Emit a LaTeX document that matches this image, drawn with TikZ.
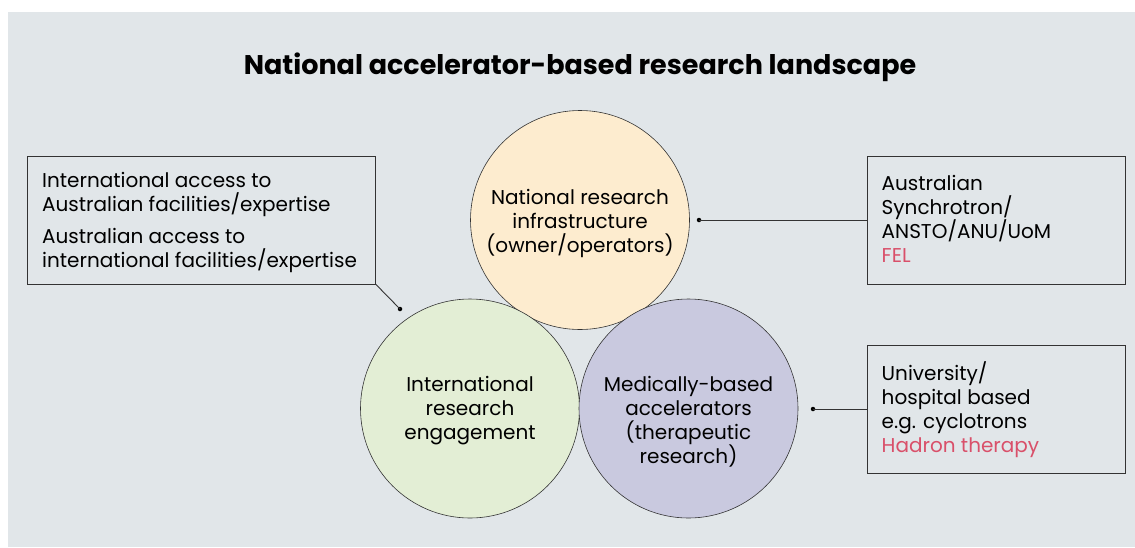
\documentclass[tikz,border=0pt]{standalone}
\usepackage{fontspec}
\setmainfont{Poppins}
\definecolor{panel}{HTML}{E1E6E9}
\definecolor{infra}{HTML}{FDECCF}
\definecolor{intl}{HTML}{E3EED5}
\definecolor{medic}{HTML}{C9C9DF}
\definecolor{accent}{HTML}{D9506A}
\definecolor{edge}{HTML}{333333}
\begin{document}
\begin{tikzpicture}[x=1pt,y=-1pt,
  bubble/.style={circle,draw=edge,line width=0.6pt,minimum size=219pt,inner sep=0pt},
  bubbletext/.style={align=center,font=\fontsize{20}{24}\selectfont,text=black},
  infobox/.style={draw=edge,line width=0.9pt},
  infotext/.style={anchor=north west,align=left,inner sep=0pt,font=\fontsize{20}{24}\selectfont},
  link/.style={draw=edge,line width=0.9pt},
  pin/.style={circle,fill=black,inner sep=0pt,minimum size=4.5pt}]
\useasboundingbox (0,0) rectangle (1135,547);
\fill[white] (0,0) rectangle (1135,547);
\fill[panel] (8,12) rectangle (1135,547);

% heading
\node[font=\fontsize{27}{30}\selectfont\bfseries] (title) at (580,67) {National accelerator-based research landscape};

% three overlapping areas
\node[bubble,fill=infra] (nri) at (580,220) {};
\node[bubble,fill=intl] (ire) at (470,408.5) {};
\node[bubble,fill=medic] (mba) at (688.5,408.5) {};
\node[bubbletext] (nrit) at (580,223) {National research\\infrastructure\\(owner/operators)};
\node[bubbletext] (iret) at (470,411) {International\\research\\engagement};
\node[bubbletext] (mbat) at (688.5,422) {Medically-based\\accelerators\\(therapeutic\\research)};

% side boxes
\draw[infobox] (27.5,156) rectangle (375.5,284);
\coordinate (lbcorner) at (375.5,284);
\node[infotext] (lbtext) at (42,172) {International access to\\Australian facilities/expertise\\[8pt]Australian access to\\international facilities/expertise};

\draw[infobox] (867,156) rectangle (1125,284);
\coordinate (rtleft) at (867,220);
\node[infotext] (rttext) at (881.5,175) {Australian\\Synchrotron/\\ANSTO/ANU/UoM\\\textcolor{accent}{FEL}};

\draw[infobox] (867,345) rectangle (1125,473);
\coordinate (rbleft) at (867,409);
\node[infotext] (rbtext) at (881.5,361) {University/\\hospital based\\e.g. cyclotrons\\\textcolor{accent}{Hadron therapy}};

% leaders
\node[pin] (p1) at (400,309) {};
\node[pin] (p2) at (699,220) {};
\node[pin] (p3) at (813,409) {};
\draw[link] (lbcorner) -- (p1.center);
\draw[link] (p2.center) -- (rtleft);
\draw[link] (p3.center) -- (rbleft);
\end{tikzpicture}
\end{document}
